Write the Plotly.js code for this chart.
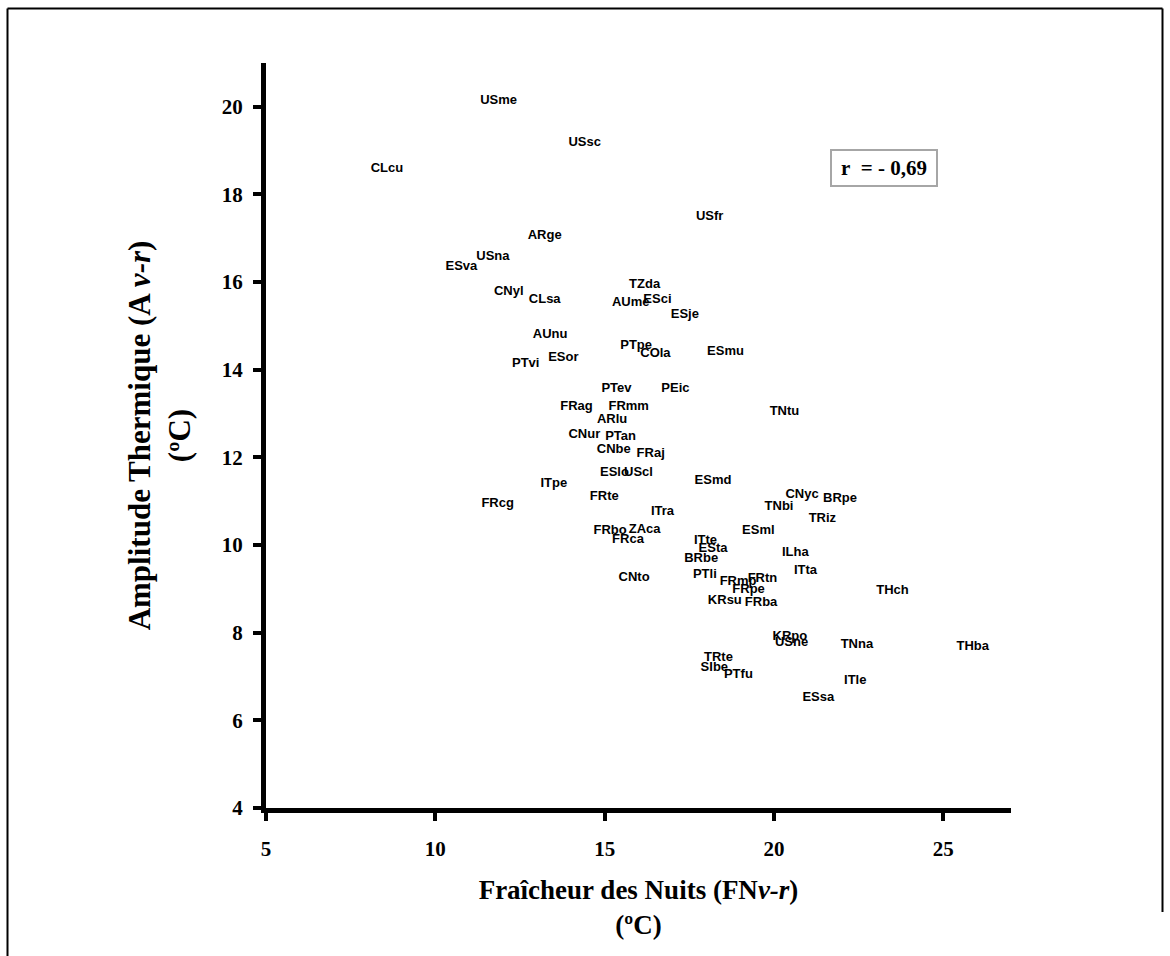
<!DOCTYPE html>
<html>
<head>
<meta charset="utf-8">
<script src="https://cdn.plot.ly/plotly-3.0.1.min.js"></script>
<style>
  html, body { margin: 0; padding: 0; background: #ffffff; }
  #chart { width: 1170px; height: 956px; }
</style>
</head>
<body>
<div id="chart"></div>
<script>
// Station codes
const stations = [
  "USme","USsc","CLcu","USfr","ARge","USna","ESva","CNyl","CLsa","TZda",
  "AUme","ESci","ESje","AUnu","PTpe","COla","ESmu","PTvi","ESor","PTev",
  "PEic","FRag","FRmm","ARlu","TNtu","CNur","PTan","CNbe","FRaj","ESlo",
  "UScl","ITpe","ESmd","FRte","FRcg","CNyc","BRpe","TNbi","ITra","TRiz",
  "FRbo","ZAca","FRca","ESml","ITte","ESta","BRbe","ILha","CNto","PTli",
  "ITta","FRmp","FRtn","FRpe","KRsu","FRba","THch","KRpo","USne","TNna",
  "THba","TRte","SIbe","PTfu","ITle","ESsa"
];
// Fraîcheur des Nuits (FNv-r), ºC
const fraicheur = [
  11.87,14.41,8.57,18.10,13.23,11.70,10.77,12.17,13.23,16.18,
  15.77,16.56,17.37,13.39,15.93,16.50,18.57,12.67,13.78,15.35,
  17.09,14.17,15.71,15.22,20.31,14.40,15.47,15.27,16.36,15.29,
  16.00,13.50,18.20,14.99,11.84,20.83,21.95,20.15,16.71,21.43,
  15.16,16.18,15.69,19.54,17.98,18.20,17.85,20.63,15.87,17.96,
  20.93,18.94,19.66,19.25,18.55,19.62,23.50,20.47,20.52,22.45,
  25.87,18.36,18.24,18.95,22.40,21.31
];
// Amplitude Thermique (Av-r), ºC
const amplitude = [
  20.13,19.19,18.59,17.50,17.05,16.59,16.36,15.77,15.59,15.94,
  15.53,15.59,15.26,14.81,14.55,14.36,14.40,14.14,14.27,13.56,
  13.56,13.15,13.15,12.87,13.05,12.52,12.47,12.18,12.09,11.65,
  11.65,11.40,11.46,11.10,10.95,11.15,11.05,10.87,10.77,10.59,
  10.32,10.36,10.13,10.32,10.09,9.91,9.68,9.82,9.26,9.33,
  9.42,9.16,9.24,8.97,8.73,8.69,8.96,7.91,7.76,7.72,
  7.68,7.42,7.19,7.05,6.90,6.51
];
const xTicks = [5, 10, 15, 20, 25];
const yTicks = [4, 6, 8, 10, 12, 14, 16, 18, 20];
const corrText = "r\u00a0\u00a0= - 0,69";

const serif = "Liberation Serif, Times New Roman, serif";
const sans = "Liberation Sans, Arial, sans-serif";

const trace = {
  type: "scatter",
  mode: "text",
  x: fraicheur,
  y: amplitude,
  text: stations,
  textposition: "middle center",
  textfont: { family: sans, size: 13, color: "#000000", weight: "bold" },
  hoverinfo: "text+x+y",
  showlegend: false
};

const ml = 266, mr = 159, mt = 63, mb = 148;
const W = 1170, H = 956;
const pw = W - ml - mr, ph = H - mt - mb;
const px = v => (v - ml) / pw;
const py = v => (H - mb - v) / ph;

const layout = {
  width: W,
  height: H,
  margin: { l: ml, r: mr, t: mt, b: mb, pad: 0 },
  paper_bgcolor: "#ffffff",
  plot_bgcolor: "#ffffff",
  showlegend: false,
  xaxis: {
    range: [5, 27],
    tickvals: xTicks,
    ticktext: xTicks.map(String),
    showgrid: false,
    zeroline: false,
    showline: true,
    linecolor: "#000000",
    linewidth: 5,
    ticks: "outside",
    ticklen: 8,
    tickwidth: 4,
    tickcolor: "#000000",
    ticklabelstandoff: 10,
    tickfont: { family: serif, size: 21, color: "#000000", weight: "bold" },
    title: {
      text: "Fraîcheur des Nuits (FN<i>v-r</i>)<br>(ºC)",
      font: { family: serif, size: 27, color: "#000000", weight: "bold" },
      standoff: 21
    },
    fixedrange: true
  },
  yaxis: {
    range: [4, 21],
    tickvals: yTicks,
    ticktext: yTicks.map(String),
    showgrid: false,
    zeroline: false,
    showline: true,
    linecolor: "#000000",
    linewidth: 5,
    ticks: "outside",
    ticklen: 8,
    tickwidth: 4,
    tickcolor: "#000000",
    ticklabelstandoff: 6,
    tickfont: { family: serif, size: 21, color: "#000000", weight: "bold" },
    title: {
      text: "Amplitude Thermique (A\u2009<i>v-r</i>)<br>(ºC)",
      font: { family: serif, size: 31, color: "#000000", weight: "bold" },
      standoff: 23
    },
    fixedrange: true
  },
  annotations: [
    {
      xref: "paper", yref: "paper",
      x: px(884), y: py(168),
      xanchor: "center", yanchor: "middle",
      text: corrText,
      showarrow: false,
      font: { family: serif, size: 21, color: "#000000", weight: "bold" },
      bordercolor: "#a6a6a6",
      borderwidth: 2,
      borderpad: 2,
      width: 100,
      height: 30,
      bgcolor: "#ffffff"
    }
  ],
  shapes: [
    { type: "line", xref: "paper", yref: "paper", x0: px(7.5), x1: px(1162.5), y0: py(8.5), y1: py(8.5), line: { color: "#000000", width: 2 } },
    { type: "line", xref: "paper", yref: "paper", x0: px(7.5), x1: px(7.5), y0: py(8.5), y1: py(970), line: { color: "#000000", width: 2 } },
    { type: "line", xref: "paper", yref: "paper", x0: px(1162.5), x1: px(1162.5), y0: py(8.5), y1: py(912), line: { color: "#000000", width: 2 } }
  ]
};

Plotly.newPlot("chart", [trace], layout, { displayModeBar: false, staticPlot: false, responsive: false });
</script>
</body>
</html>
